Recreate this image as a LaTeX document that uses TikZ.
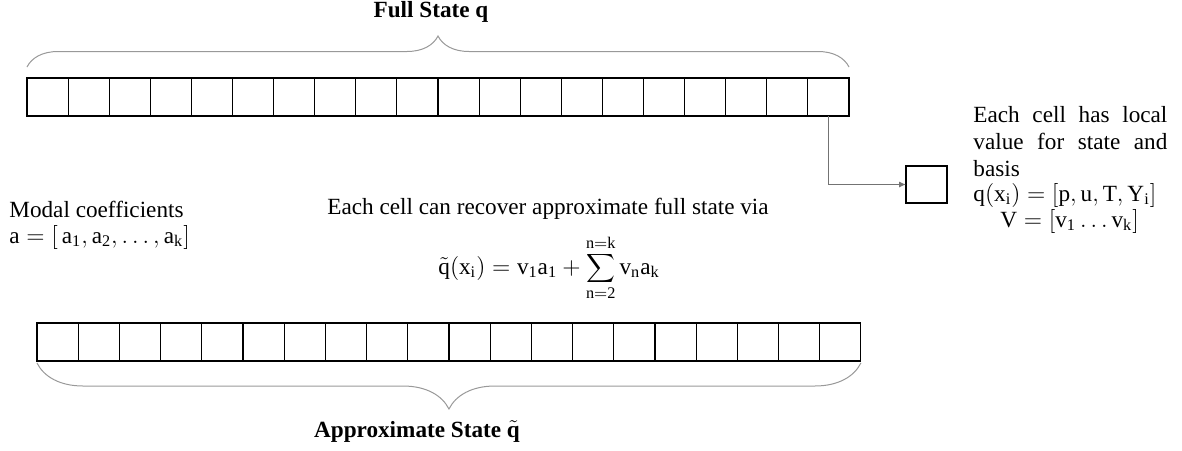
\documentclass[tikz,border=0pt]{standalone}
\usepackage{fontspec}
\setmainfont{Liberation Serif}
\usetikzlibrary{arrows.meta, calc, decorations.pathreplacing}

\begin{document}
\begin{tikzpicture}[x=0.5pt, y=-0.5pt, >=Latex,
  cellbox/.style={draw, line width=0.55pt, minimum width=20.55pt,
    minimum height=19pt, inner sep=0pt, outer sep=0pt, anchor=north west},
  txt/.style={font=\fontsize{11.6}{13.5}\selectfont, inner sep=0pt, anchor=base west},
  ttl/.style={font=\fontsize{11.6}{13.5}\selectfont\bfseries, inner sep=0pt, anchor=base},
  bracepath/.style={draw=gray!80, line width=0.5pt, decorate,
    decoration={brace, amplitude=#1}}]

%% ============================================================
%% Canvas (pixel units, y pointing down)
%% ============================================================
\useasboundingbox (0,0) rectangle (1182,450);

\def\cellW{41.1}   % cell width (px)

%% ---- Full state: row of 20 cells ----
\foreach \i in {1,...,20} {
  \node[cellbox] (top\i) at ({27+(\i-1)*\cellW}, 78) {};
}

%% brace above the full state
\draw[bracepath=15.5pt] ($(top1.north west)+(0,-11)$) -- ($(top20.north east)+(0,-11)$);
\node[ttl] (fulltitle) at (431,17) {Full State q};

%% ---- One cell picked out ----
\node[cellbox, minimum width=20.5pt, minimum height=18.5pt] (onecell) at (906,166) {};
\draw[->, gray!90!black, line width=0.5pt, >={Latex[length=3.5pt, width=3pt]}]
  (top20.south) |- (onecell.west);

%% local values held by the cell
\node[txt] (local1) at (973,122) {\makebox[97pt][s]{Each cell has local}};
\node[txt] (local2) at (973,149) {\makebox[97pt][s]{value for state and}};
\node[txt] (local3) at (973,176) {basis};
\node[txt] (qcell) at (973,201) {$\mathrm{q(x_i)} = [\mathrm{p, u, T, Y_i}]$};
\node[txt] (vcell) at (1000,227) {$\mathrm{V} = [\mathrm{v_1} \ldots \mathrm{v_k}]$};

%% ---- Modal coefficients ----
\node[txt] (modal) at (9,217) {Modal coefficients};
\node[txt] (avec) at (9,243) {$\mathrm{a} = [\,\mathrm{a_1, a_2, \ldots, a_k}]$};

%% ---- Reconstruction ----
\node[txt] (recover) at (327,214) {Each cell can recover approximate full state via};
\node[txt] (recon) at (438,274)
  {$\displaystyle \tilde{\mathrm{q}}(\mathrm{x_i}) = \mathrm{v_1 a_1} +
    \sum_{\mathrm{n=2}}^{\mathrm{n=k}} \mathrm{v_n a_k}$};

%% ---- Approximate state: row of 20 cells ----
\foreach \i in {1,...,20} {
  \node[cellbox] (bot\i) at ({37+(\i-1)*41.2}, 323) {};
}

%% brace below the approximate state
\draw[bracepath=23pt] ($(bot20.south east)+(0,2)$) -- ($(bot1.south west)+(0,2)$);
\node[ttl] (approxtitle) at (417,437) {Approximate State $\tilde{\mathbf{q}}$};

\end{tikzpicture}
\end{document}
